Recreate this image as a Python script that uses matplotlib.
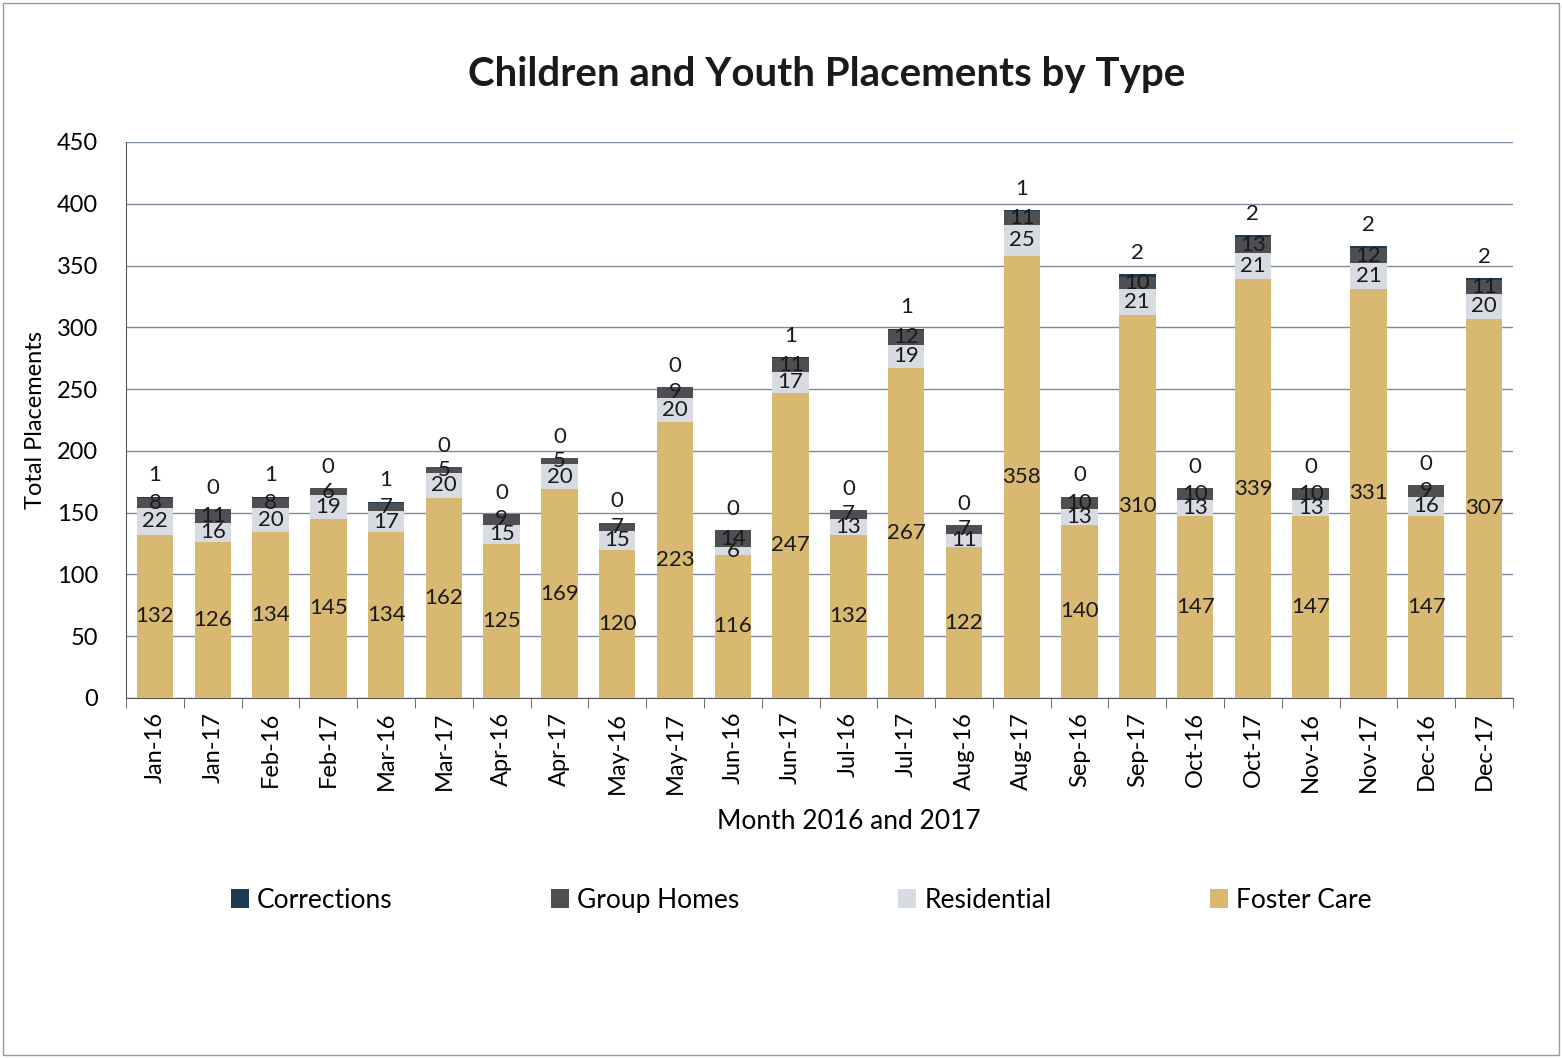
import matplotlib.pyplot as plt
import numpy as np

plt.rcParams['font.family'] = ['Lato', 'DejaVu Sans']

months = ['Jan-16', 'Jan-17', 'Feb-16', 'Feb-17', 'Mar-16', 'Mar-17', 'Apr-16', 'Apr-17',
          'May-16', 'May-17', 'Jun-16', 'Jun-17', 'Jul-16', 'Jul-17', 'Aug-16', 'Aug-17',
          'Sep-16', 'Sep-17', 'Oct-16', 'Oct-17', 'Nov-16', 'Nov-17', 'Dec-16', 'Dec-17']
foster_care = [132, 126, 134, 145, 134, 162, 125, 169, 120, 223, 116, 247,
               132, 267, 122, 358, 140, 310, 147, 339, 147, 331, 147, 307]
residential = [22, 16, 20, 19, 17, 20, 15, 20, 15, 20, 6, 17,
               13, 19, 11, 25, 13, 21, 13, 21, 13, 21, 16, 20]
group_homes = [8, 11, 8, 6, 7, 5, 9, 5, 7, 9, 14, 11,
               7, 12, 7, 11, 10, 10, 10, 13, 10, 12, 9, 11]
corrections = [1, 0, 1, 0, 1, 0, 0, 0, 0, 0, 0, 1,
               0, 1, 0, 1, 0, 2, 0, 2, 0, 2, 0, 2]

c_fc = '#d9b872'
c_res = '#d8dbe2'
c_gh = '#4d4f52'
c_cor = '#1f3b52'

fig = plt.figure(figsize=(15.62, 10.58), dpi=100)
ax = fig.add_axes([0.0807, 0.3403, 0.8879, 0.5255])

x = np.arange(len(months))
w = 0.63
fc = np.array(foster_care)
res = np.array(residential)
gh = np.array(group_homes)
cor = np.array(corrections)

b1 = ax.bar(x, fc, w, color=c_fc, label='Foster Care', zorder=3)
b2 = ax.bar(x, res, w, bottom=fc, color=c_res, label='Residential', zorder=3)
b3 = ax.bar(x, gh, w, bottom=fc + res, color=c_gh, label='Group Homes', zorder=3)
b4 = ax.bar(x, cor, w, bottom=fc + res + gh, color=c_cor, label='Corrections', zorder=3)

# data labels, centred in each segment like the Excel original; corrections sit above
lbl = dict(ha='center', va='center', fontsize=16, color='#1a1a1a', zorder=4)
for i in x:
    ax.text(i, fc[i] / 2, str(fc[i]), **lbl)
    ax.text(i, fc[i] + res[i] / 2, str(res[i]), **lbl)
    ax.text(i, fc[i] + res[i] + gh[i] / 2, str(gh[i]), **lbl)
    top = fc[i] + res[i] + gh[i] + cor[i]
    ax.annotate(str(cor[i]), (i, top), xytext=(0, 8), textcoords='offset points',
                ha='center', va='bottom', fontsize=16, color='#1a1a1a')

ax.set_xlim(-0.5, len(months) - 0.5)
ax.set_ylim(0, 450)
ax.set_yticks(range(0, 451, 50))
ax.tick_params(axis='y', labelsize=17, length=0, pad=20)
ax.set_xticks(x)
ax.set_xticklabels(months, rotation=90, fontsize=17)
ax.set_xticks(np.arange(-0.5, len(months), 1), minor=True)
ax.tick_params(axis='x', which='major', length=0, pad=10)
ax.tick_params(axis='x', which='minor', length=7, color='#555555')
ax.grid(axis='y', color='#7d8aa0', linewidth=1, zorder=0)
for s in ['top', 'right']:
    ax.spines[s].set_visible(False)
ax.spines['left'].set_color('#555555')
ax.spines['bottom'].set_color('#555555')

ax.set_ylabel('Total Placements', fontsize=17, labelpad=8)
ax.set_xlabel('Month 2016 and 2017', fontsize=19)
ax.xaxis.set_label_coords(0.521, -0.199)
ax.set_title('Children and Youth Placements by Type', fontsize=29, fontweight='bold',
             color='#1a1a1a', pad=40, x=0.505)

handles = [b4, b3, b2, b1]
fig.legend(handles, [h.get_label() for h in handles], loc='center', ncol=4,
           bbox_to_anchor=(0.513, 0.149), frameon=False, fontsize=19,
           handlelength=0.7, handleheight=0.7, handletextpad=0.3, columnspacing=6.0)

fig.patches.append(plt.Rectangle((0.002, 0.003), 0.996, 0.994, transform=fig.transFigure,
                                 fill=False, edgecolor='#999999', linewidth=1))

fig.savefig('out.png', dpi=100)
